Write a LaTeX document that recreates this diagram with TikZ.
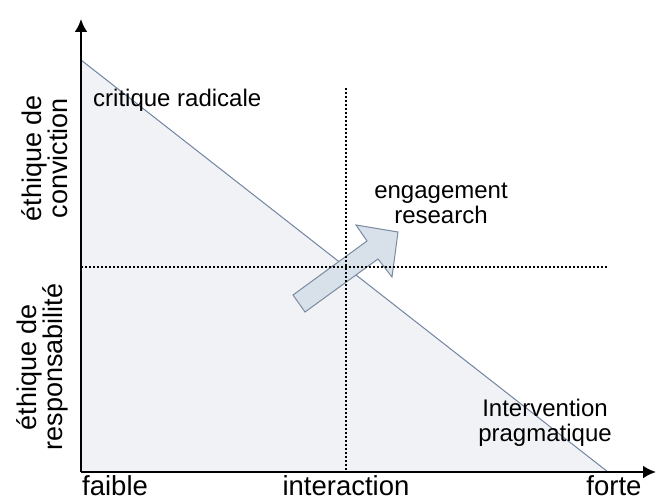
\documentclass[tikz,border=0pt]{standalone}
\usepackage{fontspec}
\setmainfont{Liberation Sans}
\usetikzlibrary{arrows.meta}
\definecolor{zonefill}{HTML}{F1F2F5}
\definecolor{diagline}{HTML}{7384A0}
\definecolor{arrowfill}{HTML}{D8E0EA}
\definecolor{arrowline}{HTML}{7A8BA0}
\tikzset{
    axislabel/.style={font=\fontsize{27.5}{28}\selectfont, inner sep=0pt},
    sidelabel/.style={font=\fontsize{27}{26}\selectfont, align=center, rotate=90, inner sep=0pt},
    zonelabel/.style={font=\fontsize{24}{25}\selectfont, align=center, inner sep=0pt},
    gridline/.style={black, line width=1.1pt, dash pattern=on 2pt off 2pt},
    axisline/.style={line width=2.4pt, -{Latex[length=13pt,width=13pt]}}
}
\begin{document}
\begin{tikzpicture}[x=1pt,y=-1pt]
    \useasboundingbox (0,0) rectangle (656,500);
    \coordinate (O) at (81,472);
    \coordinate (ytop) at (81,19);
    \coordinate (xend) at (656,472);
    \coordinate (diagtop) at (81,60);
    \coordinate (diagend) at (608,472);

    % zone under the diagonal
    \fill[zonefill] (diagtop) -- (diagend) -- (O) -- cycle;
    \draw[diagline, line width=1pt] (diagtop) -- (diagend);

    % block arrow
    \filldraw[fill=arrowfill, draw=arrowline, line width=1pt, line join=miter]
        (293,295) -- (367,241) -- (356,225) -- (398,232) -- (392,277)
        -- (378,259) -- (305,312) -- cycle;

    % quadrant lines
    \coordinate (vtop) at (346,88);
    \coordinate (vbot) at (346,472);
    \coordinate (hleft) at (81,267);
    \coordinate (hright) at (608,267);
    \draw[gridline] (vtop) -- (vbot);
    \draw[gridline] (hleft) -- (hright);

    % axes
    \draw[axisline] (O) -- (ytop);
    \draw[axisline] (O) -- (xend);

    \node[zonelabel, anchor=base west] (crit) at (93,107) {critique radicale};
    \node[zonelabel] (engage) at (441,203) {engagement\\research};
    \node[zonelabel] (interv) at (545,423) {Intervention\\pragmatique};

    \node[axislabel, anchor=base west] (faible) at (82,495) {faible};
    \node[axislabel, anchor=base] (inter) at (346,495) {interaction};
    \node[axislabel, anchor=base] (forte) at (614,495) {forte};

    \node[sidelabel] (convic) at (45,158) {éthique de\\conviction};
    \node[sidelabel] (respons) at (42,367) {éthique de\\responsabilité};
\end{tikzpicture}
\end{document}
